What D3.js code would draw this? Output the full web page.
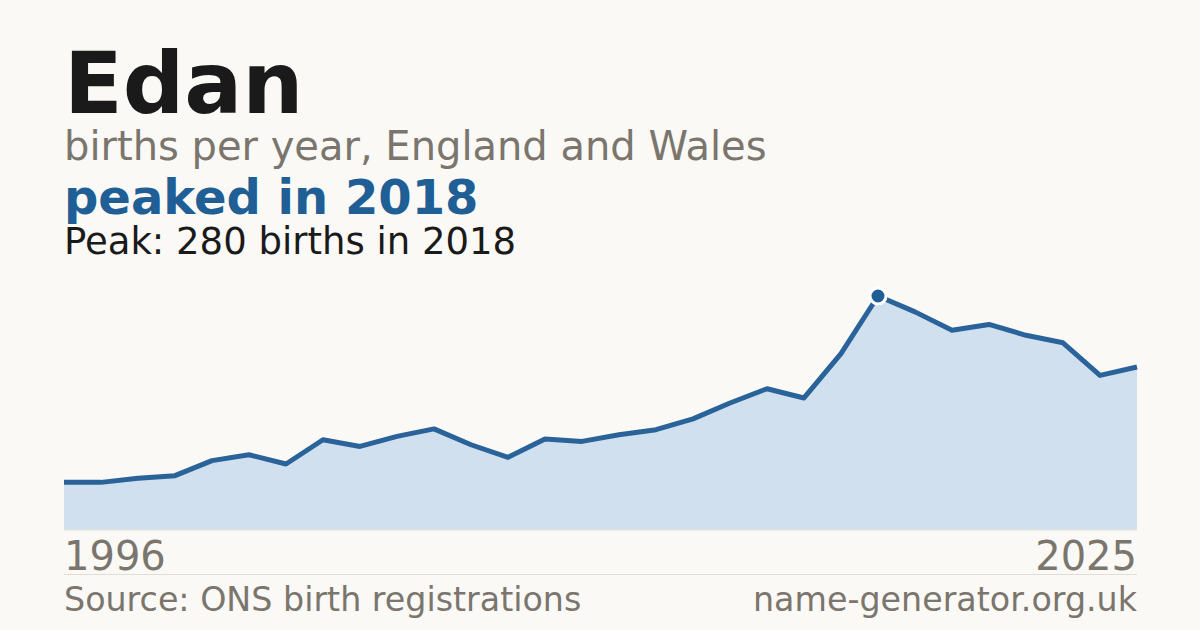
<!DOCTYPE html>
<html>
<head>
<meta charset="utf-8">
<script src="https://cdn.jsdelivr.net/npm/d3@7"></script>
<style>
  html, body { margin: 0; padding: 0; background: #faf9f5; }
  svg { display: block; font-family: "DejaVu Sans", sans-serif; }
</style>
</head>
<body>
<script>
// data
const years = d3.range(1996, 2026);
const births = [57, 57, 62, 65, 83, 90, 79, 108, 100, 112,
                121, 102, 87, 109, 106, 114, 120, 133, 152, 169,
                158, 211, 280, 261, 239, 246, 233, 224, 185, 195];
const peakYear = 2018;
const peakValue = 280;
const yearLabels = [1996, 2025];

const W = 1200, H = 630;
const left = 64, right = 1137;

const svg = d3.select("body").append("svg")
    .attr("width", W)
    .attr("height", H);

svg.append("rect").attr("width", W).attr("height", H).attr("fill", "#faf9f5");

// header text
svg.append("text").attr("x", 64).attr("y", 113)
    .attr("font-size", 86).attr("font-weight", "bold").attr("fill", "#1a1a1a")
    .text("Edan");
svg.append("text").attr("x", 64).attr("y", 160)
    .attr("font-size", 40).attr("fill", "#7a756d")
    .text("births per year, England and Wales");
svg.append("text").attr("x", 64).attr("y", 214)
    .attr("font-size", 48).attr("font-weight", "bold").attr("fill", "#1f5f96")
    .text("peaked in " + peakYear);
svg.append("text").attr("x", 64).attr("y", 254)
    .attr("font-size", 37).attr("fill", "#1a1a1a")
    .text(`Peak: ${peakValue} births in ${peakYear}`);

// scales
const x = d3.scaleLinear().domain([1996, 2025]).range([left, right]);
const y = d3.scaleLinear().domain([0, peakValue]).range([530, 296]);

const data = years.map((yr, i) => ({ year: yr, value: births[i] }));

svg.append("path")
    .datum(data)
    .attr("d", d3.area().x(d => x(d.year)).y0(y(0)).y1(d => y(d.value)))
    .attr("fill", "#d0e0ef");

svg.append("line")
    .attr("x1", left).attr("x2", right)
    .attr("y1", y(0)).attr("y2", y(0))
    .attr("stroke", "#e4e0d6").attr("stroke-width", 1);

svg.append("path")
    .datum(data)
    .attr("d", d3.line().x(d => x(d.year)).y(d => y(d.value)))
    .attr("fill", "none")
    .attr("stroke", "#2a6399")
    .attr("stroke-width", 5)
    .attr("stroke-linejoin", "round");

// peak marker
svg.append("circle")
    .attr("cx", x(peakYear)).attr("cy", y(peakValue))
    .attr("r", 8)
    .attr("fill", "#1f5f96")
    .attr("stroke", "#ffffff").attr("stroke-width", 3);

// year labels
svg.selectAll("text.yr")
    .data(yearLabels)
    .join("text")
    .attr("class", "yr")
    .attr("x", d => x(d))
    .attr("y", 570)
    .attr("text-anchor", (d, i) => i === 0 ? "start" : "end")
    .attr("font-size", 40)
    .attr("fill", "#7a756d")
    .text(d => d);

// divider + footer
svg.append("line")
    .attr("x1", left).attr("x2", right)
    .attr("y1", 574.5).attr("y2", 574.5)
    .attr("stroke", "#e0ddd5").attr("stroke-width", 1);

svg.append("text").attr("x", 64).attr("y", 611)
    .attr("font-size", 33.3).attr("fill", "#7a756d")
    .text("Source: ONS birth registrations");
svg.append("text").attr("x", right).attr("y", 611)
    .attr("text-anchor", "end")
    .attr("font-size", 33.3).attr("fill", "#7a756d")
    .text("name-generator.org.uk");
</script>
</body>
</html>
